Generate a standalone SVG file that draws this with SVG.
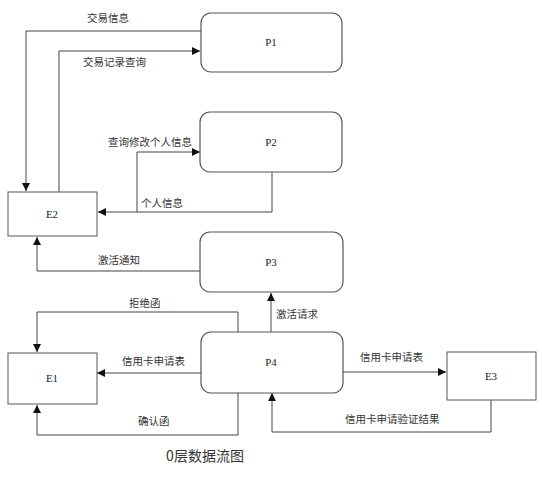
<svg xmlns="http://www.w3.org/2000/svg" width="542" height="479" viewBox="0 0 542 479">
<style>
.proc{fill:#fff;stroke:#555;stroke-width:1.2}
.ent{fill:#fff;stroke:#555;stroke-width:1}
.ln{fill:none;stroke:#444;stroke-width:1}
.nt{font-family:"Liberation Serif",serif;font-size:11px;fill:#222;text-anchor:middle}
.lb{font-family:"Noto Sans CJK SC","Liberation Sans",sans-serif;font-size:10.5px;fill:#333}
.tt{font-family:"Noto Sans CJK SC","Liberation Sans",sans-serif;font-size:14px;fill:#333;text-anchor:middle}
</style>
<defs>
<marker id="ah" viewBox="0 0 10 10" refX="10" refY="5" markerWidth="8" markerHeight="8" markerUnits="userSpaceOnUse" orient="auto">
<path d="M0,0 L10,5 L0,10 Z" fill="#111"/>
</marker>
</defs>
<rect width="542" height="479" fill="#fff"/>
<g id="connectors">
<path class="ln" d="M201,31 H26 V191" marker-end="url(#ah)"/>
<path class="ln" d="M59,192 V51 H200" marker-end="url(#ah)"/>
<path class="ln" d="M137,212 V152 H200" marker-end="url(#ah)"/>
<path class="ln" d="M272,172 V212 H98" marker-end="url(#ah)"/>
<path class="ln" d="M200,271 H37 V237" marker-end="url(#ah)"/>
<path class="ln" d="M238,332 V312 H37 V352" marker-end="url(#ah)"/>
<path class="ln" d="M271,332 V293" marker-end="url(#ah)"/>
<path class="ln" d="M201,373 H97" marker-end="url(#ah)"/>
<path class="ln" d="M343,372 H446" marker-end="url(#ah)"/>
<path class="ln" d="M238,393 V435 H37 V405" marker-end="url(#ah)"/>
<path class="ln" d="M491,400 V432 H272 V393" marker-end="url(#ah)"/>
<text class="lb" x="87" y="22">交易信息</text>
<text class="lb" x="83" y="66">交易记录查询</text>
<text class="lb" x="108" y="146">查询修改个人信息</text>
<text class="lb" x="141" y="207">个人信息</text>
<text class="lb" x="98" y="264">激活通知</text>
<text class="lb" x="129" y="307">拒绝函</text>
<text class="lb" x="276" y="318">激活请求</text>
<text class="lb" x="122" y="365">信用卡申请表</text>
<text class="lb" x="360" y="361">信用卡申请表</text>
<text class="lb" x="138" y="425">确认函</text>
<text class="lb" x="345" y="423">信用卡申请验证结果</text>
</g>
<g id="P1"><rect class="proc" x="201" y="13" width="141" height="59" rx="10"/><text class="nt" x="271" y="46">P1</text></g>
<g id="P2"><rect class="proc" x="200" y="112" width="142" height="60" rx="10"/><text class="nt" x="271" y="146">P2</text></g>
<g id="P3"><rect class="proc" x="200" y="232" width="143" height="60" rx="10"/><text class="nt" x="271" y="266">P3</text></g>
<g id="P4"><rect class="proc" x="201" y="332" width="142" height="61" rx="10"/><text class="nt" x="271" y="366">P4</text></g>
<g id="E1"><rect class="ent" x="8" y="353" width="89" height="51"/><text class="nt" x="52" y="382">E1</text></g>
<g id="E2"><rect class="ent" x="8" y="192" width="89" height="44"/><text class="nt" x="52" y="218">E2</text></g>
<g id="E3"><rect class="ent" x="447" y="352" width="89" height="48"/><text class="nt" x="491" y="380">E3</text></g>
<text class="tt" x="205" y="461">0层数据流图</text>
</svg>
